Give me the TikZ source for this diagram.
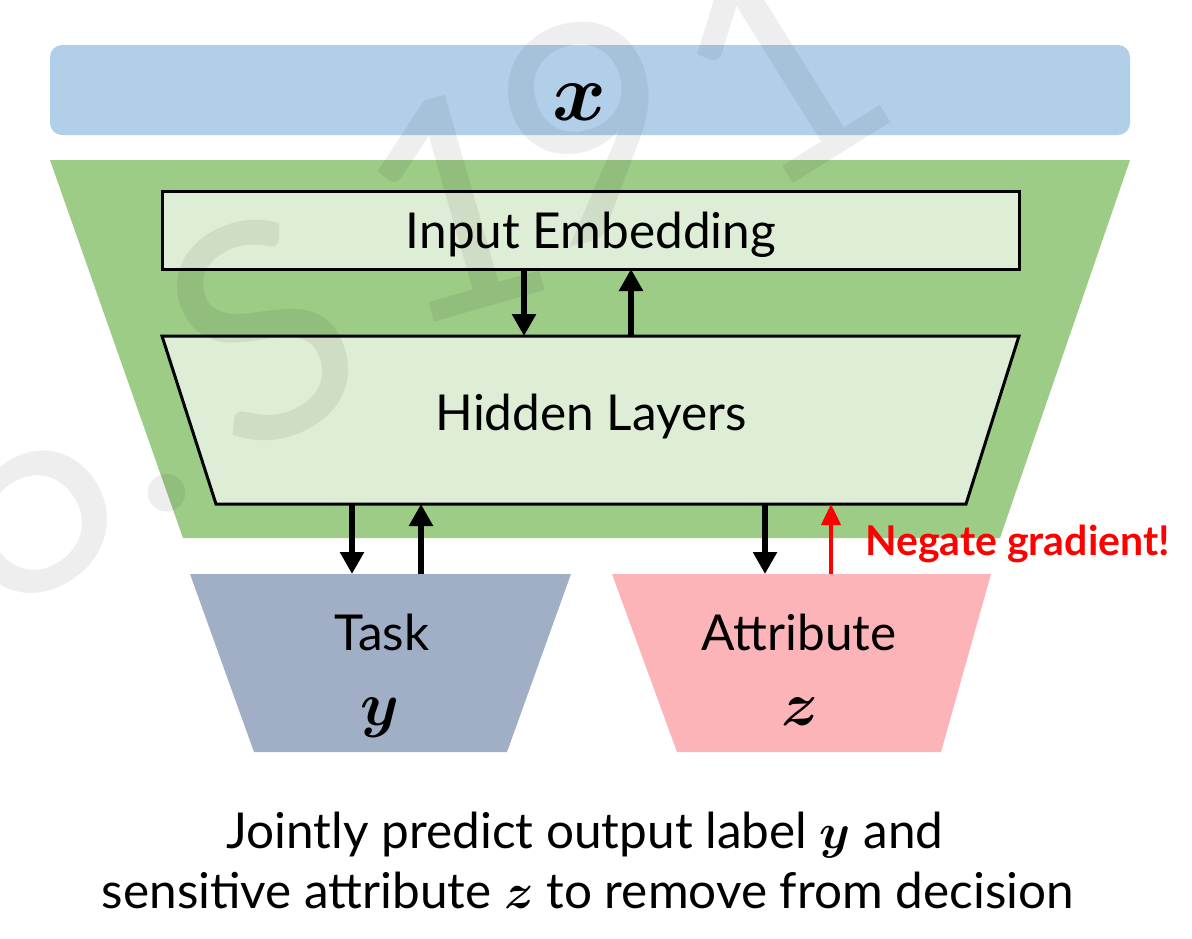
\documentclass[tikz,border=0pt]{standalone}
\usepackage{fix-cm}
\usepackage{bm}
\usepackage{fontspec}
\setmainfont{Lato}
\usetikzlibrary{arrows.meta}
\definecolor{xblue}{HTML}{B2CFEA}
\definecolor{outgreen}{HTML}{9DCC86}
\definecolor{ingreen}{HTML}{DEEDD5}
\definecolor{taskc}{HTML}{A1AFC6}
\definecolor{attrc}{HTML}{FDB4B9}
\definecolor{negred}{HTML}{FF0000}
\newcommand{\bigtxt}{\fontsize{49.5}{58}\selectfont}
\tikzset{
  frame/.style={draw=none, inner sep=0pt, outer sep=0pt},
  lbl/.style={font=\bigtxt, inner sep=0pt, anchor=base},
  arr/.style={line width=5.5pt, -{Triangle[width=23pt,length=22pt]}},
  redarr/.style={line width=4pt, draw=negred, -{Triangle[width=19pt,length=21pt]}},
  box/.style={line width=3pt, draw=black, fill=ingreen, line join=miter},
  wmglyph/.style={inner sep=0pt, rotate=26, font=\fontsize{300}{300}\selectfont, text=black, text opacity=0.065},
}
\begin{document}
\begin{tikzpicture}[x=1pt,y=-1pt]
\useasboundingbox (0,0) rectangle (1192,938);
\fill[white] (0,0) rectangle (1192,938);
% input bar
\node[frame, fill=xblue, rounded corners=12pt, minimum width=1080pt, minimum height=90pt] (xbar) at (590,90) {};
% encoder (outer green)
\node[frame, minimum width=1080pt, minimum height=378pt] (enc) at (590,349) {};
\fill[outgreen] (enc.north west) -- (enc.north east) -- ([xshift=-130pt]enc.south east) -- ([xshift=133pt]enc.south west) -- cycle;
% input embedding
\node[box, inner sep=0pt, outer sep=0pt, minimum width=857pt, minimum height=78pt] (emb) at (590.5,230) {};
% hidden layers
\node[frame, minimum width=857pt, minimum height=168pt] (hid) at (590.5,420) {};
\draw[box] (hid.north west) -- (hid.north east) -- ([xshift=-53pt]hid.south east) -- ([xshift=54pt]hid.south west) -- cycle;
% task head
\node[frame, minimum width=381pt, minimum height=178pt] (task) at (380.5,663) {};
\fill[taskc] (task.north west) -- (task.north east) -- ([xshift=-64pt]task.south east) -- ([xshift=64pt]task.south west) -- cycle;
% attribute head
\node[frame, minimum width=379pt, minimum height=178pt] (attr) at (801.5,663) {};
\fill[attrc] (attr.north west) -- (attr.north east) -- ([xshift=-50pt]attr.south east) -- ([xshift=65pt]attr.south west) -- cycle;
% watermark "6.S191"
\begin{scope}
\clip (0,0) rectangle (1192,938);
\node[wmglyph, rotate=8] (wm1) at (12,490) {6};
\node[wmglyph] (wm2) at (167,493) {.};
\node[wmglyph] (wm3) at (262,330) {S};
\node[wmglyph, rotate=-10] (wm4) at (452,205) {1};
\node[wmglyph, rotate=-12] (wm5) at (590,130) {9};
\node[wmglyph, rotate=6] (wm6) at (778,66) {1};
\end{scope}
% labels
\node[inner sep=0pt, anchor=base] (xv) at (580,120) {\fontsize{82}{86}\selectfont$\bm{x}$};
\node[lbl] (embt) at (591,248) {Input Embedding};
\node[lbl] (hidt) at (591,430) {Hidden Layers};
\node[lbl] (taskt) at (382,650) {Task};
\node[lbl] (attrt) at (799,650) {Attribute};
\node[inner sep=0pt, anchor=base] (yv) at (380,725) {\fontsize{62}{66}\selectfont$\bm{y}$};
\node[inner sep=0pt, anchor=base] (zv) at (800,725) {\fontsize{62}{66}\selectfont$\bm{z}$};
\node[inner sep=0pt, anchor=base west, text=negred, font=\fontsize{41}{44}\selectfont\bfseries] (neg) at (865,555) {Negate gradient!};
\node[lbl] (cap1) at (585,848) {Jointly predict output label $\bm{y}$ and};
\node[lbl] (cap2) at (588,908) {sensitive attribute $\bm{z}$ to remove from decision};
% connectors
\coordinate (c1) at (524,0);
\coordinate (c2) at (631,0);
\coordinate (c3) at (352,0);
\coordinate (c4) at (421,0);
\coordinate (c5) at (765,0);
\coordinate (c6) at (831,0);
\draw[arr] (emb.south -| c1) -- (hid.north -| c1);
\draw[arr] (hid.north -| c2) -- (emb.south -| c2);
\draw[arr] (hid.south -| c3) -- (task.north -| c3);
\draw[arr] (task.north -| c4) -- (hid.south -| c4);
\draw[arr] (hid.south -| c5) -- (attr.north -| c5);
\draw[redarr] (attr.north -| c6) -- (hid.south -| c6);
\end{tikzpicture}
\end{document}
